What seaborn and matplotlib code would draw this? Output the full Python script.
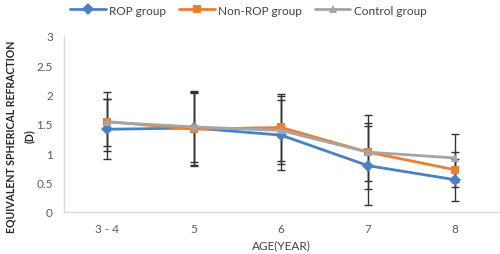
import numpy as np
import pandas as pd
import matplotlib
matplotlib.use("Agg")
import matplotlib.pyplot as plt
import seaborn as sns

ages = ["3 - 4", "5", "6", "7", "8"]
groups = ["ROP group", "Non-ROP group", "Control group"]

rop_mean = [1.41, 1.43, 1.31, 0.79, 0.55]
rop_sd = [0.51, 0.63, 0.60, 0.68, 0.36]
nonrop_mean = [1.54, 1.41, 1.44, 1.02, 0.72]
nonrop_sd = [0.50, 0.62, 0.57, 0.63, 0.30]
control_mean = [1.53, 1.45, 1.39, 1.02, 0.92]
control_sd = [0.40, 0.60, 0.58, 0.50, 0.41]

colors = {"ROP group": "#4A80C4", "Non-ROP group": "#ED7D31", "Control group": "#A5A5A5"}
markers = {"ROP group": "D", "Non-ROP group": "s", "Control group": "^"}

sns.set_style("white")
plt.rcParams["font.family"] = ["Lato", "DejaVu Sans"]

means = [rop_mean, nonrop_mean, control_mean]
sds = [rop_sd, nonrop_sd, control_sd]

rows = []
for g, m, s in zip(groups, means, sds):
    for i, age in enumerate(ages):
        rows.append({"group": g, "pos": i, "age": age, "mean": m[i], "sd": s[i]})
df = pd.DataFrame(rows)

fig = plt.figure(figsize=(5, 2.55), dpi=100)
ax = fig.add_axes([0.128, 0.165, 0.868, 0.69])

# error bars first so the lines sit on top
for g in groups:
    d = df[df["group"] == g]
    ax.errorbar(d["pos"], d["mean"], yerr=d["sd"], fmt="none", ecolor="#333333",
                elinewidth=1.0, capsize=3, capthick=1.0, zorder=1)

sns.lineplot(data=df, x="pos", y="mean", hue="group", style="group",
             hue_order=groups, style_order=groups, palette=colors,
             markers=markers, dashes=False, linewidth=2.0, markersize=6,
             markeredgewidth=0, ax=ax, zorder=3)

ax.set_xlim(-0.5, 4.5)
ax.set_ylim(0, 3)
ax.set_xticks(range(len(ages)))
ax.set_xticklabels(ages)
ax.set_yticks(np.arange(0, 3.01, 0.5))
ax.set_yticklabels(["0", "0.5", "1", "1.5", "2", "2.5", "3"])
ax.tick_params(axis="both", length=0, labelsize=8.5, labelcolor="#595959", pad=8)

for side in ["top", "right"]:
    ax.spines[side].set_visible(False)
for side in ["left", "bottom"]:
    ax.spines[side].set_color("#D9D9D9")
    ax.spines[side].set_linewidth(1.0)

ax.set_xlabel("AGE(YEAR)", fontsize=8.5, color="#404040", labelpad=4)
ax.set_ylabel("EQUIVALENT SPHERICAL REFRACTION\n(D)", fontsize=7.6,
              fontweight="bold", color="#262626", linespacing=1.8)
ax.yaxis.set_label_coords(-0.068, 0.435)

handles, labels = ax.get_legend_handles_labels()
ax.legend_.remove()
fig.legend(handles, labels, loc="upper center", bbox_to_anchor=(0.497, 1.02),
           ncol=3, frameon=False, fontsize=8.5, handlelength=3.0,
           columnspacing=1.1, handletextpad=0.3, labelcolor="#404040")

fig.savefig("out.png", dpi=100)
